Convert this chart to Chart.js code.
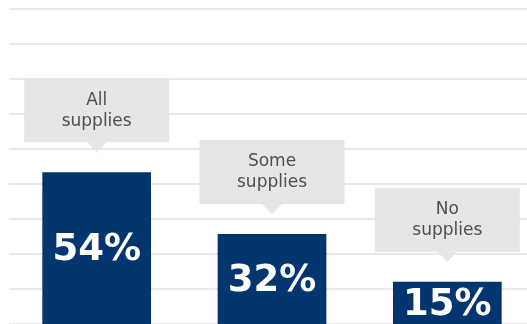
<!DOCTYPE html>
<html>
<head>
<meta charset="utf-8">
<script src="https://cdn.jsdelivr.net/npm/chart.js@4/dist/chart.umd.min.js"></script>
<style>
    html, body { margin: 0; padding: 0; background: #ffffff; overflow: hidden; }
    #wrap { position: relative; width: 535px; height: 324px; }
</style>
</head>
<body>
<div id="wrap"><canvas id="grafico"></canvas></div>
<script>
const categorias = ['All supplies', 'Some supplies', 'No supplies'];
const rotulos = [['All', 'supplies'], ['Some', 'supplies'], ['No', 'supplies']];
const valores = [54, 32, 15];

const corBarra = '#03356f';
const corBalao = '#e6e6e6';

// baloes e percentuais desenhados sobre as barras
const baloes = {
    id: 'baloes',
    afterDatasetsDraw(chart) {
        const ctx = chart.ctx;
        const meta = chart.getDatasetMeta(0);
        const fundo = chart.chartArea.bottom;

        meta.data.forEach((barra, i) => {
            const x = barra.x;
            const topo = barra.y;

            // percentual dentro da barra
            ctx.save();
            ctx.fillStyle = '#ffffff';
            ctx.font = 'bold 37px "DejaVu Sans"';
            ctx.textAlign = 'center';
            ctx.textBaseline = 'middle';
            ctx.fillText(valores[i] + '%', x, (topo + fundo) / 2 + 2);
            ctx.restore();

            // balao acima da barra
            const ponta = topo - 20;
            const baseBalao = ponta - 10;
            const alto = 64;
            const largo = 145;
            ctx.save();
            ctx.fillStyle = corBalao;
            ctx.fillRect(x - largo / 2, baseBalao - alto, largo, alto);
            ctx.beginPath();
            ctx.moveTo(x - 10, baseBalao);
            ctx.lineTo(x + 10, baseBalao);
            ctx.lineTo(x, ponta);
            ctx.closePath();
            ctx.fill();

            ctx.fillStyle = '#4f4f4f';
            ctx.font = '17px "DejaVu Sans"';
            ctx.textAlign = 'center';
            ctx.textBaseline = 'middle';
            const meio = baseBalao - alto / 2;
            ctx.fillText(rotulos[i][0], x, meio - 10);
            ctx.fillText(rotulos[i][1], x, meio + 11);
            ctx.restore();
        });
    }
};

new Chart(document.getElementById('grafico'), {
    type: 'bar',
    data: {
        labels: categorias,
        datasets: [{
            data: valores,
            backgroundColor: corBarra,
            categoryPercentage: 1,
            barPercentage: 0.62,
            yAxisID: 'y'
        }]
    },
    options: {
        responsive: true,
        maintainAspectRatio: false,
        animation: false,
        layout: { padding: { left: 9, top: 9, right: 0, bottom: 0 } },
        plugins: {
            legend: { display: false },
            tooltip: { enabled: false }
        },
        scales: {
            x: { display: false },
            y: { display: false, min: 0, max: 112 },
            linhas: {
                position: 'left',
                min: 0,
                max: 9,
                ticks: { display: false, stepSize: 1 },
                border: { display: false },
                grid: { color: '#e8e8e8', lineWidth: 2, drawTicks: false }
            }
        }
    },
    plugins: [baloes]
});
</script>
</body>
</html>
